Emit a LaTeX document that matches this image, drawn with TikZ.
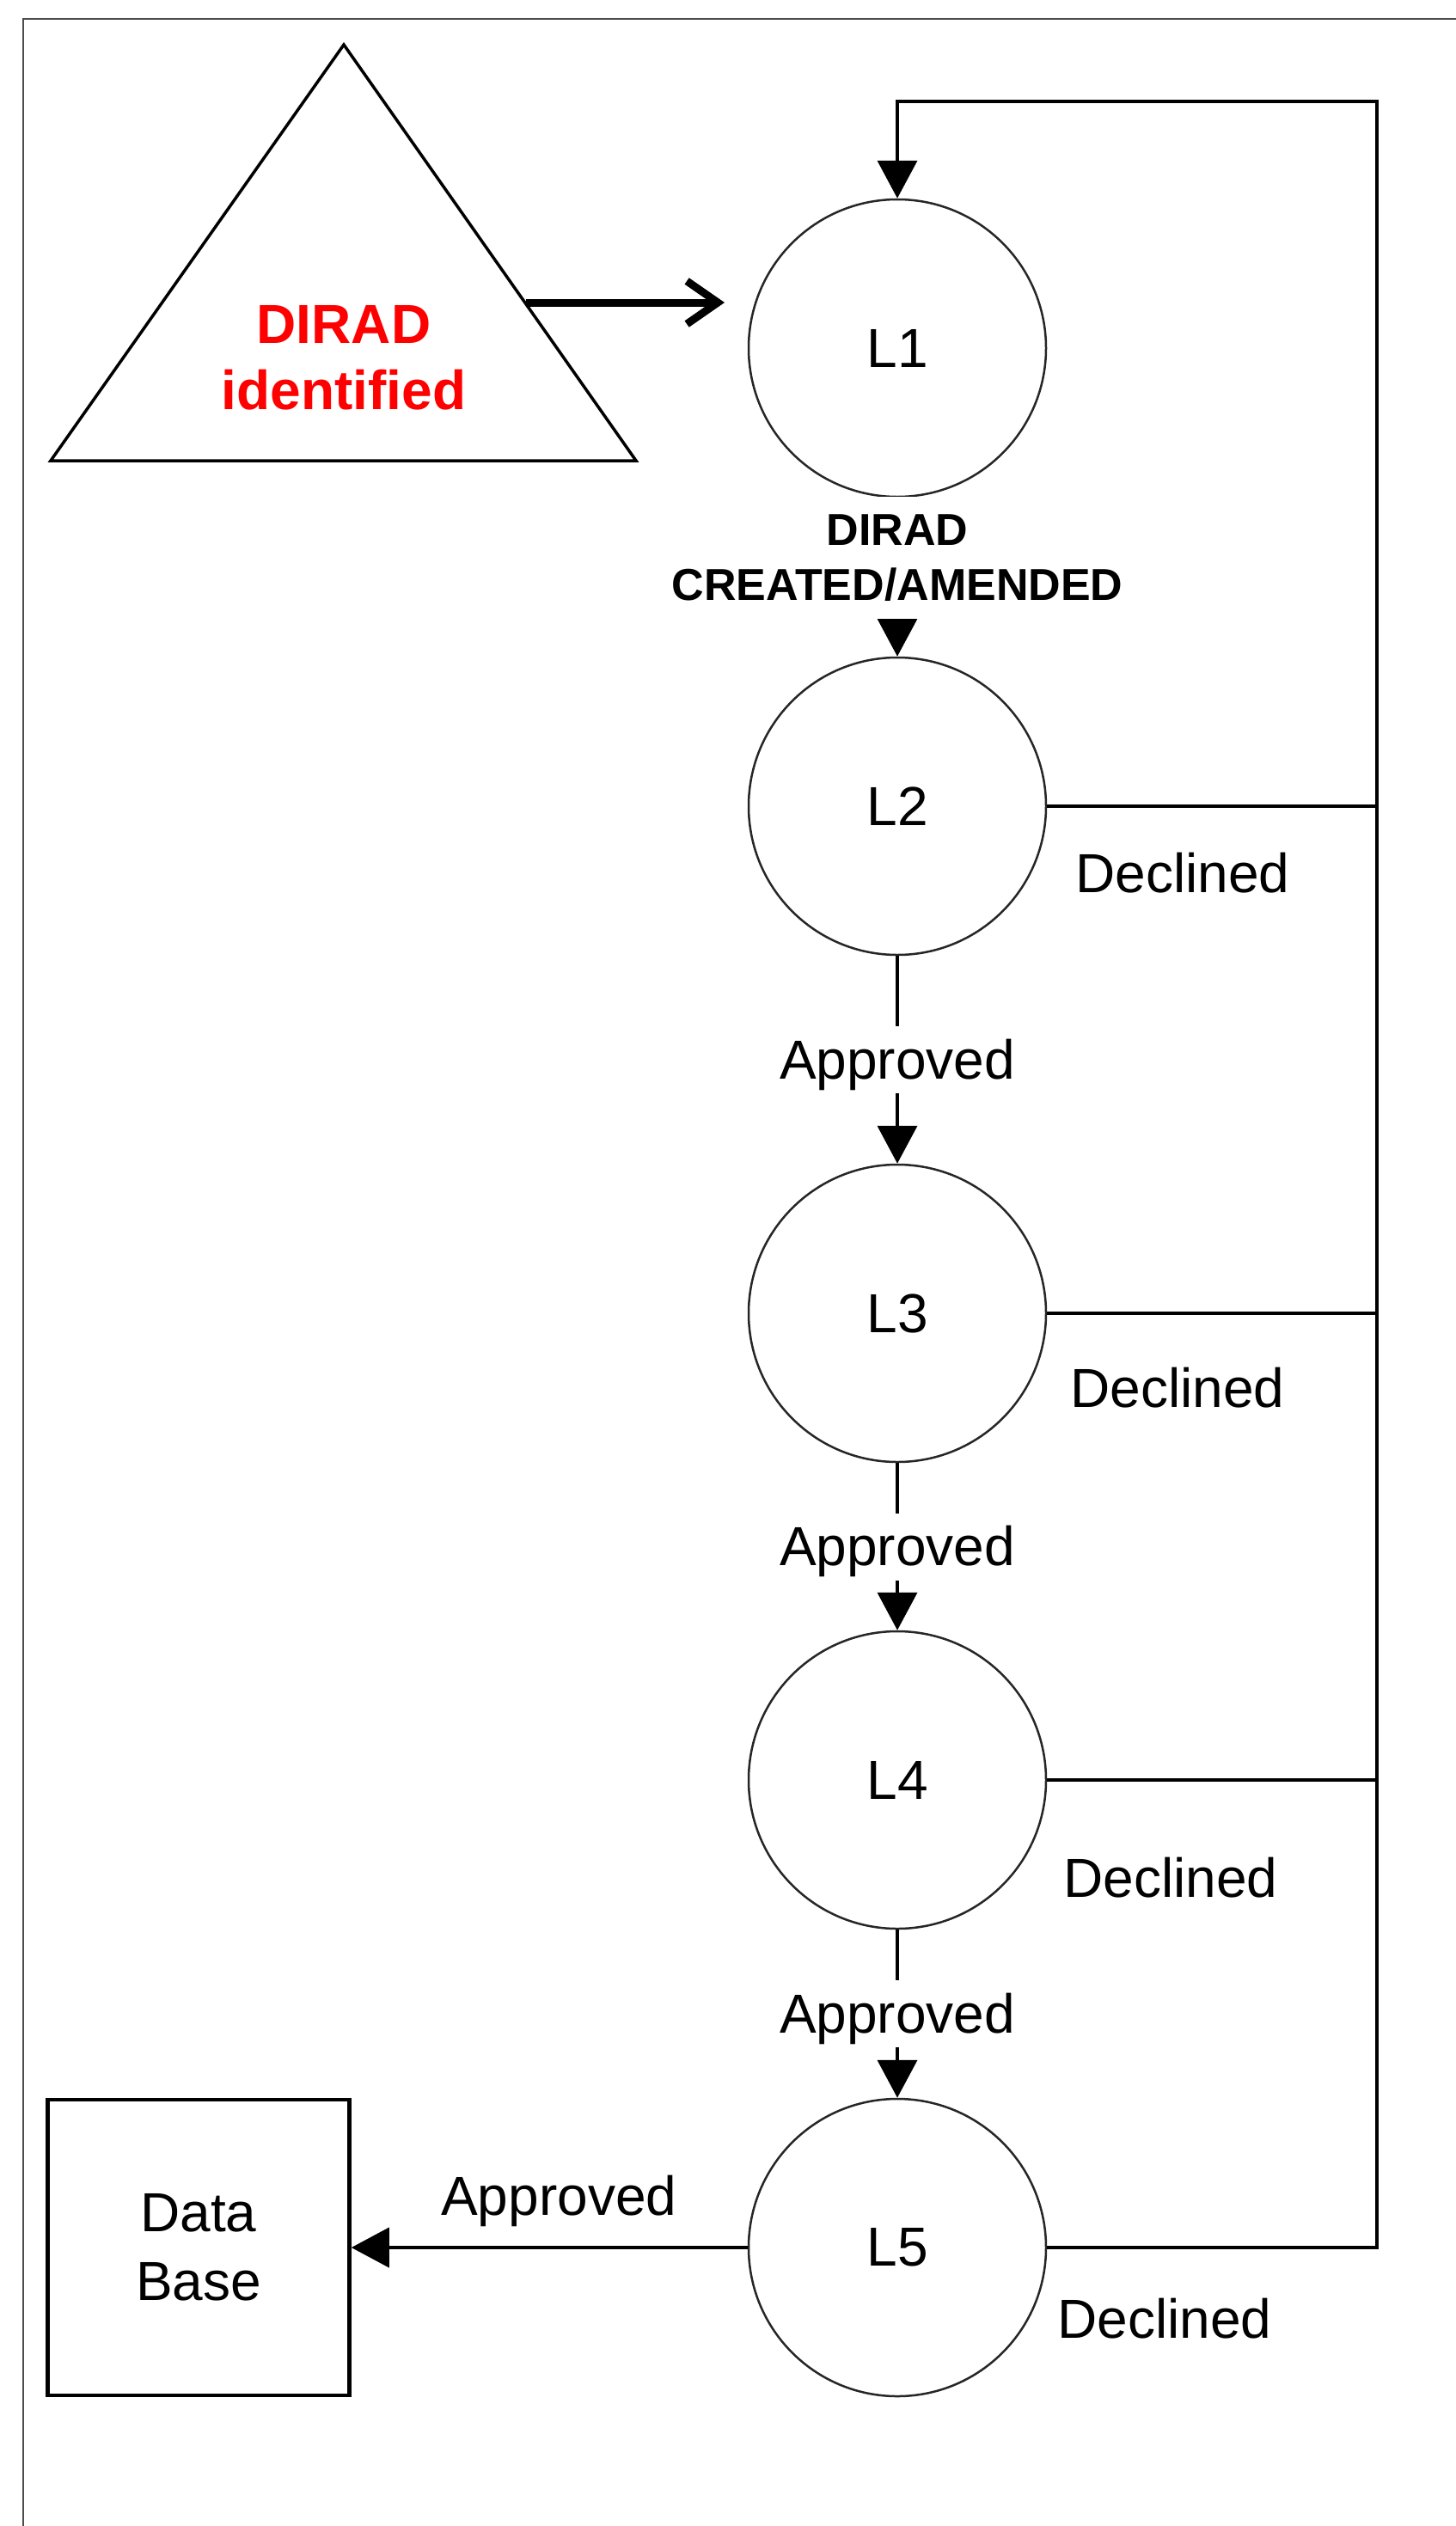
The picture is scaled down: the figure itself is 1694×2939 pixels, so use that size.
\documentclass[tikz,border=0pt]{standalone}
\usepackage{fontspec}
\setmainfont{Liberation Sans}
\usetikzlibrary{arrows.meta}
\begin{document}
\begin{tikzpicture}[x=1pt,y=-1pt,
  state/.style={circle, draw=black!85, line width=2.5pt, minimum size=346pt, inner sep=0pt, font=\fontsize{64pt}{77pt}\selectfont},
  flow/.style={line width=4pt, draw=black, line join=miter},
  arr/.style={flow, -{Triangle[length=44pt,width=46pt]}},
  lab/.style={font=\fontsize{64pt}{77pt}\selectfont, text height=58pt, text depth=14pt, inner sep=3pt},
  wlab/.style={lab, fill=white},
]
\useasboundingbox (0,0) rectangle (1694,2939);
% frame
\draw[black!70, line width=2.5pt] (27,2939) -- (27,22) -- (1694,22);
% triangle
\draw[line width=3.5pt, line join=miter] (400,52) -- (740,536) -- (59,536) -- cycle;
\node[font=\bfseries\fontsize{64pt}{77pt}\selectfont, text=red, align=center, inner sep=0pt] (dirad) at (400,416.5) {DIRAD\\identified};
\coordinate (tA) at (612,352);
\coordinate (tB) at (843,352);
\draw[line width=9pt, -{Straight Barb[length=36pt,width=50pt]}] (tA) -- (tB);
% states
\node[state] (L1) at (1044,405) {L1};
\node[state] (L2) at (1044,938) {L2};
\node[state] (L3) at (1044,1528) {L3};
\node[state] (L4) at (1044,2071) {L4};
\node[state] (L5) at (1044,2615) {L5};
\node[draw, line width=4.5pt, minimum width=351pt, minimum height=344pt, align=center, inner sep=0pt,
      font=\fontsize{64pt}{80pt}\selectfont] (db) at (231,2615) {Data\\Base};
% main flow
\draw[arr] (L1) -- node[pos=0.378, fill=white, align=center, inner sep=0pt, minimum height=142pt,
      font=\bfseries\fontsize{52pt}{64pt}\selectfont] (created) {DIRAD\\CREATED/AMENDED} (L2);
\draw[arr] (L2) -- node[wlab] (ap2) {Approved} (L3);
\draw[arr] (L3) -- node[wlab] (ap3) {Approved} (L4);
\draw[arr] (L4) -- node[wlab] (ap4) {Approved} (L5);
\draw[arr] (L5) -- node[lab, anchor=base, xshift=11pt, yshift=38pt] (ap5) {Approved} (db);
% declined loop
\coordinate (rt) at (1602,118);
\draw[arr] (L5.east) -| (rt) -| (L1.north);
\draw[flow] (L2.east) -- (L2.east -| rt);
\draw[flow] (L3.east) -- (L3.east -| rt);
\draw[flow] (L4.east) -- (L4.east -| rt);
\node[lab, anchor=base] (d2) at (1376,1038) {Declined};
\node[lab, anchor=base] (d3) at (1370,1637) {Declined};
\node[lab, anchor=base] (d4) at (1362,2207) {Declined};
\node[lab, anchor=base] (d5) at (1355,2720) {Declined};
\end{tikzpicture}
\end{document}
